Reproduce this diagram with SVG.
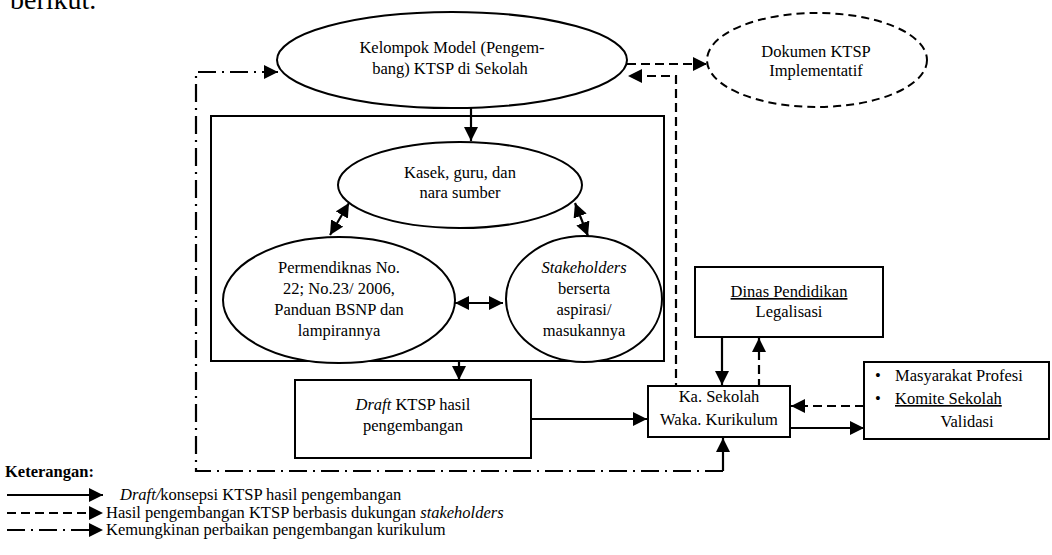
<svg xmlns="http://www.w3.org/2000/svg" width="1052" height="555" viewBox="0 0 1052 555">
<style>
text{font-family:"Liberation Serif","Times New Roman",serif;font-size:16.5px;fill:#000}
.c{text-anchor:middle}
.shape{fill:#fff;stroke:#000;stroke-width:2}
.ln{fill:none;stroke:#000;stroke-width:2.2}
.dash{stroke-dasharray:9 5}
.dd{stroke-dasharray:18 6 2 6}
.it{font-style:italic}
.u{text-decoration:underline}
</style>
<defs>
<marker id="ah" viewBox="0 0 14 14" refX="14" refY="7" markerWidth="14" markerHeight="14" markerUnits="userSpaceOnUse" orient="auto-start-reverse">
<path d="M0,0 L14,7 L0,14 Z" fill="#000"/>
</marker>
</defs>
<rect width="1052" height="555" fill="#fff"/>
<text x="10" y="9" style="font-size:28px">berikut.</text>

<g id="container"><rect class="shape" x="211" y="116" width="453" height="245"/></g>

<g id="connectors">
<path class="ln" d="M471,108 V141" marker-end="url(#ah)"/>
<path class="ln" d="M349,203 L330,235" marker-start="url(#ah)" marker-end="url(#ah)"/>
<path class="ln" d="M575,203 L588,236" marker-start="url(#ah)" marker-end="url(#ah)"/>
<path class="ln" d="M455,303 H503" marker-start="url(#ah)" marker-end="url(#ah)"/>
<path class="ln" d="M459,361 V380" marker-end="url(#ah)"/>
<path class="ln" d="M531,419 H647" marker-end="url(#ah)"/>
<path class="ln" d="M722,338 V385" marker-end="url(#ah)"/>
<path class="ln dash" d="M759,388 V338" marker-end="url(#ah)"/>
<path class="ln dash" d="M864,406 H791" marker-end="url(#ah)"/>
<path class="ln" d="M791,428 H864" marker-end="url(#ah)"/>
<path class="ln dash" d="M627,64 H707" marker-end="url(#ah)"/>
<path class="ln dash" d="M676,392 V76 H628" marker-end="url(#ah)"/>
<path class="ln dd" d="M723,471 H196 V72 H278" marker-end="url(#ah)"/>
<path class="ln" d="M723,471 V438" marker-end="url(#ah)"/>
</g>

<g id="kelompok">
<ellipse class="shape" cx="452" cy="60" rx="175" ry="48"/>
<text class="c" x="452" y="53">Kelompok Model (Pengem-</text>
<text class="c" x="450" y="74">bang) KTSP di Sekolah</text>
</g>
<g id="dokumen">
<ellipse class="shape dash" cx="817" cy="60" rx="110" ry="47" style="stroke-dasharray:8 5"/>
<text class="c" x="816" y="57">Dokumen KTSP</text>
<text class="c" x="816" y="76">Implementatif</text>
</g>
<g id="kasek">
<ellipse class="shape" cx="460" cy="185" rx="122" ry="43"/>
<text class="c" x="460" y="178">Kasek, guru, dan</text>
<text class="c" x="460" y="198">nara sumber</text>
</g>
<g id="permendiknas">
<ellipse class="shape" cx="339" cy="300" rx="116" ry="63"/>
<text class="c" x="339" y="273">Permendiknas No.</text>
<text class="c" x="339" y="294">22; No.23/ 2006,</text>
<text class="c" x="339" y="315">Panduan BSNP dan</text>
<text class="c" x="339" y="336">lampirannya</text>
</g>
<g id="stakeholders">
<ellipse class="shape" cx="584" cy="299" rx="78" ry="63"/>
<text class="c it" x="584" y="273">Stakeholders</text>
<text class="c" x="584" y="294">berserta</text>
<text class="c" x="584" y="315">aspirasi/</text>
<text class="c" x="584" y="336">masukannya</text>
</g>
<g id="draft">
<rect class="shape" x="295" y="380" width="236" height="78"/>
<text class="c" x="413" y="410"><tspan class="it">Draft</tspan> KTSP hasil</text>
<text class="c" x="413" y="431">pengembangan</text>
</g>
<g id="kasekolah">
<rect class="shape" x="648" y="386" width="142" height="51"/>
<text class="c" x="719" y="402">Ka. Sekolah</text>
<text class="c" x="719" y="425">Waka. Kurikulum</text>
</g>
<g id="dinas">
<rect class="shape" x="695" y="267" width="188" height="70"/>
<text class="c u" x="789" y="297">Dinas Pendidikan</text>
<text class="c" x="789" y="317">Legalisasi</text>
</g>
<g id="masyarakat">
<rect class="shape" x="864" y="362" width="185" height="77"/>
<text x="875" y="381">•</text>
<text x="895" y="381">Masyarakat Profesi</text>
<text x="875" y="404">•</text>
<text class="u" x="895" y="404">Komite Sekolah</text>
<text class="c" x="967" y="427">Validasi</text>
</g>

<g id="legend">
<text x="5" y="477" style="font-weight:bold">Keterangan:</text>
<path class="ln" d="M7,495 H103" marker-end="url(#ah)"/>
<text x="120" y="500"><tspan class="it">Draft/</tspan>konsepsi KTSP hasil pengembangan</text>
<path class="ln dash" d="M7,513 H103" marker-end="url(#ah)"/>
<text x="106" y="518">Hasil pengembangan KTSP berbasis dukungan <tspan class="it">stakeholders</tspan></text>
<path class="ln dd" d="M7,530 H103" marker-end="url(#ah)"/>
<text x="106" y="535">Kemungkinan perbaikan pengembangan kurikulum</text>
</g>
</svg>
